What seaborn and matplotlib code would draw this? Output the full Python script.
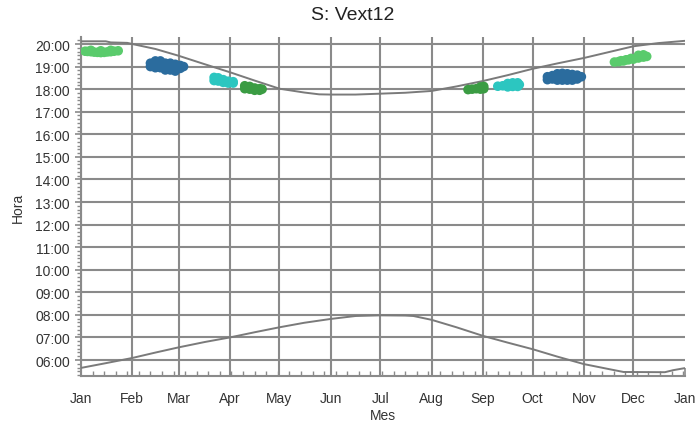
import matplotlib
matplotlib.use('Agg')
import matplotlib.pyplot as plt
from matplotlib.ticker import FuncFormatter, AutoMinorLocator, FixedLocator
import seaborn as sns
import pandas as pd

sns.set_style('white')
plt.rcParams['font.family'] = ['Liberation Sans', 'DejaVu Sans']

# Month axis (day of year)
month_days = [0, 31, 59, 90, 120, 151, 181, 212, 243, 273, 304, 334, 365]
month_labels = ['Jan', 'Feb', 'Mar', 'Apr', 'May', 'Jun', 'Jul',
                'Aug', 'Sep', 'Oct', 'Nov', 'Dec', 'Jan']

# Sunset curve (hours)
sunset_day = [0, 15, 18, 28, 31, 45, 59, 75, 90, 105, 120, 135, 144, 151, 166,
              181, 196, 212, 227, 243, 258, 273, 288, 304, 319, 334, 349, 365]
sunset_hour = [20.12, 20.12, 20.07, 20.05, 20.0, 19.78, 19.48, 19.1, 18.75, 18.38,
               18.02, 17.85, 17.77, 17.76, 17.76, 17.8, 17.84, 17.92, 18.12,
               18.36, 18.62, 18.9, 19.14, 19.38, 19.64, 19.9, 20.04, 20.14]

# Sunrise curve (hours)
sunrise_day = [0, 15, 31, 45, 59, 75, 90, 105, 120, 135, 151, 166, 181, 196,
               201, 212, 227, 243, 258, 273, 288, 304, 319, 328, 353, 358, 365]
sunrise_hour = [5.65, 5.86, 6.09, 6.33, 6.56, 6.8, 7.0, 7.23, 7.45, 7.65, 7.82,
                7.95, 7.98, 7.97, 7.95, 7.78, 7.45, 7.07, 6.77, 6.48, 6.15, 5.82,
                5.6, 5.47, 5.46, 5.55, 5.64]

# Measurement clusters
jan_day = [2.5, 4, 6, 8, 10, 12, 14, 16, 18, 20, 22.5, 6, 12, 18]
jan_hour = [19.68, 19.67, 19.66, 19.64, 19.63, 19.62, 19.63, 19.65, 19.66, 19.68, 19.7,
            19.72, 19.7, 19.72]

feb_day = [42, 42, 45, 45, 45, 48, 48, 48, 51, 51, 51, 54, 54, 54, 57, 57, 57, 60, 60, 62,
           43.5, 46.5, 49.5, 52.5, 55.5, 58.5]
feb_hour = [19.15, 19.0, 19.25, 19.1, 18.95, 19.25, 19.1, 18.95, 19.15, 19.0, 18.85,
            19.15, 19.0, 18.85, 19.1, 18.95, 18.8, 19.05, 18.92, 19.0,
            19.08, 19.02, 19.05, 19.08, 18.92, 19.0]

mar_day = [80.5, 80.5, 83, 83, 86, 86, 89, 89, 92, 92]
mar_hour = [18.52, 18.38, 18.5, 18.36, 18.42, 18.3, 18.35, 18.27, 18.33, 18.27]

apr_day = [99, 99, 102, 102, 105, 105, 108, 108, 109.5]
apr_hour = [18.15, 18.02, 18.12, 18.0, 18.05, 17.95, 18.02, 17.95, 18.0]

aug_day = [234, 236.5, 239, 241.5, 243.5, 241.5, 243.5]
aug_hour = [17.98, 18.0, 18.02, 18.1, 18.12, 18.0, 18.02]

sep_day = [252, 255, 258, 258, 261, 261, 264, 264, 265]
sep_hour = [18.13, 18.15, 18.25, 18.1, 18.28, 18.12, 18.28, 18.12, 18.2]

oct_day = [282, 282, 285, 285, 288, 288, 288, 291, 291, 291, 294, 294, 294,
           297, 297, 297, 300, 300, 302.5]
oct_hour = [18.55, 18.42, 18.6, 18.45, 18.68, 18.52, 18.4, 18.7, 18.55, 18.4,
            18.68, 18.55, 18.4, 18.65, 18.5, 18.4, 18.62, 18.45, 18.55]

dec_day = [322.5, 325, 328, 331, 334, 337, 340, 342, 337, 340, 326.5, 329.5, 332.5]
dec_hour = [19.2, 19.22, 19.25, 19.3, 19.33, 19.38, 19.42, 19.45, 19.5, 19.52,
            19.26, 19.3, 19.36]

clusters = [
    (jan_day, jan_hour, 'A'), (feb_day, feb_hour, 'B'), (mar_day, mar_hour, 'C'),
    (apr_day, apr_hour, 'D'), (aug_day, aug_hour, 'D'), (sep_day, sep_hour, 'C'),
    (oct_day, oct_hour, 'B'), (dec_day, dec_hour, 'A'),
]
palette = {'A': '#5acb6c', 'B': '#2b6c9e', 'C': '#2cc6c0', 'D': '#3b9c43'}

rows = []
for days, hours, grp in clusters:
    for d, h in zip(days, hours):
        rows.append({'day': d, 'hour': h, 'grp': grp})
pts = pd.DataFrame(rows)

sun = pd.DataFrame({'day': sunset_day, 'hour': sunset_hour})
rise = pd.DataFrame({'day': sunrise_day, 'hour': sunrise_hour})

fig = plt.figure(figsize=(6.98, 4.27), dpi=100)
ax = fig.add_axes([0.116, 0.117, 0.865, 0.794])

grid_col = '#8a8a8a'
sns.lineplot(data=sun, x='day', y='hour', color='#7a7a7a', lw=1.4, ax=ax, zorder=3)
sns.lineplot(data=rise, x='day', y='hour', color='#7a7a7a', lw=1.4, ax=ax, zorder=3)
sns.scatterplot(data=pts, x='day', y='hour', hue='grp', palette=palette,
                s=48, edgecolor='none', legend=False, ax=ax, zorder=4)

ax.set_xlim(0, 365)
ax.set_ylim(5.29, 20.31)
ax.xaxis.set_major_locator(FixedLocator(month_days))
ax.set_xticklabels(month_labels)
ax.xaxis.set_minor_locator(FixedLocator(list(range(7, 365, 7))))
ax.set_yticks(list(range(6, 21)))
ax.yaxis.set_major_formatter(FuncFormatter(lambda v, p: f"{int(round(v)):02d}:00"))
ax.yaxis.set_minor_locator(AutoMinorLocator(6))

ax.grid(True, which='major', color=grid_col, lw=1.5)
ax.xaxis.get_gridlines()[-1].set_visible(False)
ax.set_axisbelow(True)

for s in ['top', 'right']:
    ax.spines[s].set_visible(False)
for s in ['left', 'bottom']:
    ax.spines[s].set_color(grid_col)
    ax.spines[s].set_linewidth(1.5)

ax.tick_params(axis='both', which='both', bottom=True, left=True, top=False, right=False)
ax.tick_params(axis='x', which='major', direction='in', length=6, width=1.2,
               color=grid_col, pad=11, labelsize=10, labelcolor='#333333')
ax.tick_params(axis='x', which='minor', direction='in', length=3.5, width=1.0,
               color=grid_col)
ax.tick_params(axis='y', which='major', direction='out', length=4, width=1.2,
               color=grid_col, pad=4, labelsize=10, labelcolor='#333333')
ax.tick_params(axis='y', which='minor', direction='out', length=3, width=1.0,
               color=grid_col)

ax.set_xlabel('Mes', fontsize=10, color='#333333', labelpad=2)
ax.set_ylabel('Hora', fontsize=10, color='#333333', labelpad=7)
fig.text(0.505, 0.963, 'S: Vext12', ha='center', va='center', fontsize=14, color='#222222')

fig.savefig('out.png', dpi=100)
